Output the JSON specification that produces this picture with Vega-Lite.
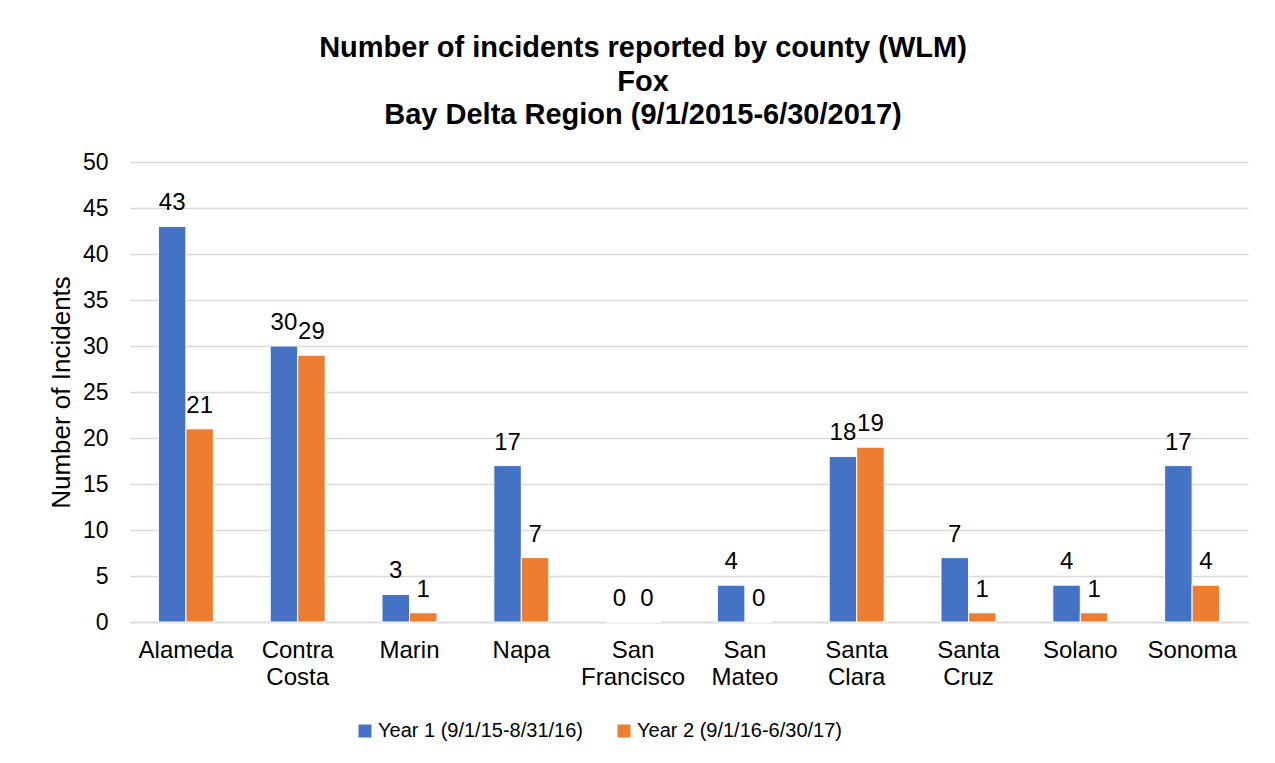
{
  "$schema": "https://vega.github.io/schema/vega-lite/v6.json",
  "width": 1118,
  "height": 460,
  "autosize": {"type": "none"},
  "padding": {"left": 130, "top": 162, "right": 27, "bottom": 141},
  "background": "white",
  "config": {"font": "Liberation Sans", "view": {"stroke": null}},
  "title": {
    "text": ["Number of incidents reported by county (WLM)", "Fox", "Bay Delta Region (9/1/2015-6/30/2017)"],
    "fontSize": 29,
    "fontWeight": "bold",
    "lineHeight": 33.5,
    "color": "black",
    "anchor": "middle",
    "frame": "group",
    "dx": -46,
    "offset": 21
  },
  "data": {
    "values": [
      {"county": "Alameda", "year": "Year 1 (9/1/15-8/31/16)", "value": 43},
      {"county": "Alameda", "year": "Year 2 (9/1/16-6/30/17)", "value": 21},
      {"county": "Contra Costa", "year": "Year 1 (9/1/15-8/31/16)", "value": 30},
      {"county": "Contra Costa", "year": "Year 2 (9/1/16-6/30/17)", "value": 29},
      {"county": "Marin", "year": "Year 1 (9/1/15-8/31/16)", "value": 3},
      {"county": "Marin", "year": "Year 2 (9/1/16-6/30/17)", "value": 1},
      {"county": "Napa", "year": "Year 1 (9/1/15-8/31/16)", "value": 17},
      {"county": "Napa", "year": "Year 2 (9/1/16-6/30/17)", "value": 7},
      {"county": "San Francisco", "year": "Year 1 (9/1/15-8/31/16)", "value": 0},
      {"county": "San Francisco", "year": "Year 2 (9/1/16-6/30/17)", "value": 0},
      {"county": "San Mateo", "year": "Year 1 (9/1/15-8/31/16)", "value": 4},
      {"county": "San Mateo", "year": "Year 2 (9/1/16-6/30/17)", "value": 0},
      {"county": "Santa Clara", "year": "Year 1 (9/1/15-8/31/16)", "value": 18},
      {"county": "Santa Clara", "year": "Year 2 (9/1/16-6/30/17)", "value": 19},
      {"county": "Santa Cruz", "year": "Year 1 (9/1/15-8/31/16)", "value": 7},
      {"county": "Santa Cruz", "year": "Year 2 (9/1/16-6/30/17)", "value": 1},
      {"county": "Solano", "year": "Year 1 (9/1/15-8/31/16)", "value": 4},
      {"county": "Solano", "year": "Year 2 (9/1/16-6/30/17)", "value": 1},
      {"county": "Sonoma", "year": "Year 1 (9/1/15-8/31/16)", "value": 17},
      {"county": "Sonoma", "year": "Year 2 (9/1/16-6/30/17)", "value": 4}
    ]
  },
  "encoding": {
    "x": {
      "field": "county",
      "type": "nominal",
      "sort": null,
      "scale": {"paddingInner": 0.508, "paddingOuter": 0.254},
      "axis": {
        "title": null,
        "labelAngle": 0,
        "labelFontSize": 24,
        "labelColor": "black",
        "labelPadding": 16,
        "labelLineHeight": 27,
        "labelExpr": "split(datum.label, ' ')",
        "ticks": false,
        "domainColor": "#D9D9D9",
        "domainWidth": 1.5
      }
    },
    "xOffset": {"field": "year", "type": "nominal", "sort": null},
    "y": {
      "field": "value",
      "type": "quantitative",
      "scale": {"domain": [0, 50]},
      "axis": {
        "values": [0, 5, 10, 15, 20, 25, 30, 35, 40, 45, 50],
        "title": "Number of Incidents",
        "titleFontSize": 26,
        "titleFontWeight": "normal",
        "titleColor": "black",
        "titlePadding": 8,
        "labelFontSize": 23,
        "labelColor": "black",
        "labelPadding": 22,
        "ticks": false,
        "domain": false,
        "gridColor": "#D9D9D9",
        "gridWidth": 1.5
      }
    }
  },
  "layer": [
    {
      "mark": {"type": "bar", "stroke": "white", "strokeWidth": 1},
      "encoding": {
        "color": {
          "field": "year",
          "type": "nominal",
          "scale": {"domain": ["Year 1 (9/1/15-8/31/16)", "Year 2 (9/1/16-6/30/17)"], "range": ["#4472C4", "#ED7D31"]},
          "legend": {
            "title": null,
            "orient": "none",
            "legendX": 225,
            "legendY": 559,
            "direction": "horizontal",
            "symbolType": "square",
            "symbolSize": 169,
            "symbolStrokeWidth": 0,
            "labelFontSize": 20,
            "labelLimit": 500,
            "labelColor": "black",
            "labelOffset": 3,
            "columnPadding": 31
          }
        }
      }
    },
    {
      "mark": {"type": "text", "baseline": "bottom", "dy": -11, "fontSize": 24, "color": "black"},
      "encoding": {"text": {"field": "value", "type": "quantitative"}}
    }
  ]
}
